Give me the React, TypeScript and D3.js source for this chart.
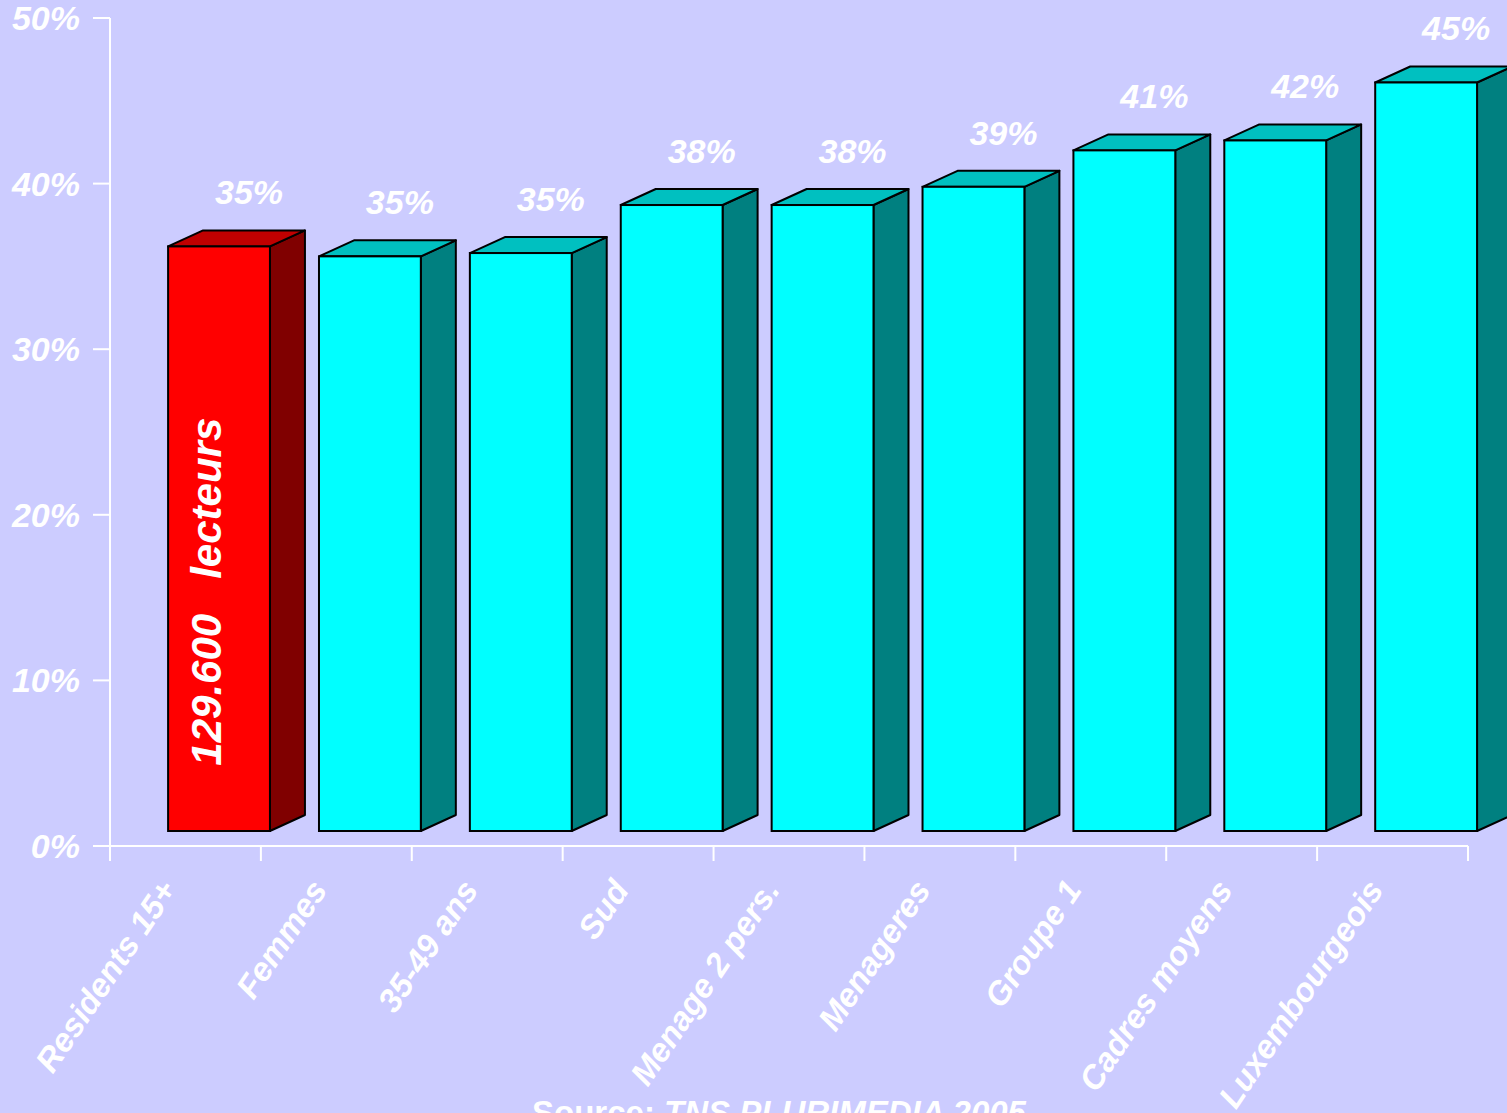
import React, { useRef, useEffect } from 'react';
import * as d3 from 'd3';

// data
const categories = [
    'Residents 15+', 'Femmes', '35-49 ans', 'Sud', 'Menage 2 pers.',
    'Menageres', 'Groupe 1', 'Cadres moyens', 'Luxembourgeois',
];
const values = [35.3, 34.7, 34.9, 37.8, 37.8, 38.9, 41.1, 41.7, 45.2];
const valueLabels = ['35%', '35%', '35%', '38%', '38%', '39%', '41%', '42%', '45%'];
const yTicks = [0, 10, 20, 30, 40, 50];
const highlight = 'Residents 15+';
const highlightNote = '129.600   lecteurs';
const sourceLabel = 'Source:';
const sourceName = 'TNS PLURIMEDIA 2005';

const FONT = "'Liberation Sans', Arial, sans-serif";

const App = () => {
    const chartRef = useRef<SVGSVGElement>(null);

    useEffect(() => {
        document.body.style.margin = '0';
        const svg = d3.select(chartRef.current);
        svg.selectAll('*').remove();

        const width = 1507;
        const height = 1113;
        const left = 110, right = 1468, top = 18, bottom = 846;

        svg.append('rect').attr('width', width).attr('height', height).attr('fill', '#ccccff');

        const x = d3.scaleBand().domain(categories).range([left, right]);
        const y = d3.scaleLinear().domain([0, 50]).range([bottom, top]);
        const bw = x.bandwidth();

        // 3D offsets
        const dx = 35, dy = 16, lift = 15;
        const faceX = (c: string) => (x(c) as number) + bw * 0.385;
        const faceW = bw * 0.675;

        // axes
        svg.append('line')
            .attr('x1', left).attr('x2', left).attr('y1', top).attr('y2', bottom + 15)
            .attr('stroke', 'white').attr('stroke-width', 2);
        svg.append('line')
            .attr('x1', 93).attr('x2', right).attr('y1', bottom).attr('y2', bottom)
            .attr('stroke', 'white').attr('stroke-width', 2);

        svg.selectAll('.ytick')
            .data(yTicks)
            .join('line')
            .attr('x1', 93).attr('x2', left)
            .attr('y1', (d) => y(d)).attr('y2', (d) => y(d))
            .attr('stroke', 'white').attr('stroke-width', 2);

        svg.selectAll('.ylab')
            .data(yTicks)
            .join('text')
            .attr('x', 80).attr('y', (d) => y(d) + 12)
            .attr('text-anchor', 'end')
            .attr('font-family', FONT).attr('font-size', 34)
            .attr('font-weight', 'bold').attr('font-style', 'italic')
            .attr('fill', 'white')
            .text((d) => d + '%');

        const xt = categories.map((c) => x(c) as number).concat([right]);
        svg.selectAll('.xtick')
            .data(xt)
            .join('line')
            .attr('x1', (d) => d).attr('x2', (d) => d)
            .attr('y1', bottom).attr('y2', bottom + 15)
            .attr('stroke', 'white').attr('stroke-width', 2);

        // bars
        const bars = svg.selectAll('.bar')
            .data(categories)
            .join('g');

        bars.each(function (c, i) {
            const g = d3.select(this);
            const hot = c === highlight;
            const x0 = faceX(c);
            const x1 = x0 + faceW;
            const y0 = y(0) - lift;
            const y1 = y(values[i]) - lift;
            const front = hot ? '#ff0000' : '#00ffff';
            const topC = hot ? '#c00000' : '#00c0c0';
            const side = hot ? '#800000' : '#008080';
            g.append('path')
                .attr('d', `M${x1},${y0}L${x1 + dx},${y0 - dy}L${x1 + dx},${y1 - dy}L${x1},${y1}Z`)
                .attr('fill', side).attr('stroke', 'black').attr('stroke-width', 2)
                .attr('stroke-linejoin', 'round');
            g.append('path')
                .attr('d', `M${x0},${y1}L${x0 + dx},${y1 - dy}L${x1 + dx},${y1 - dy}L${x1},${y1}Z`)
                .attr('fill', topC).attr('stroke', 'black').attr('stroke-width', 2)
                .attr('stroke-linejoin', 'round');
            g.append('rect')
                .attr('x', x0).attr('y', y1).attr('width', faceW).attr('height', y0 - y1)
                .attr('fill', front).attr('stroke', 'black').attr('stroke-width', 2);

            g.append('text')
                .attr('x', x0 + faceW / 2 + 30)
                .attr('y', y1 - dy - 26)
                .attr('text-anchor', 'middle')
                .attr('font-family', FONT).attr('font-size', 34)
                .attr('font-weight', 'bold').attr('font-style', 'italic')
                .attr('fill', 'white')
                .text(valueLabels[i]);

            if (hot) {
                const cx = x0 + faceW / 2 + 2;
                const cy = (y0 + y1) / 2 + 53;
                g.append('text')
                    .attr('transform', `translate(${cx},${cy}) rotate(-90)`)
                    .attr('text-anchor', 'middle')
                    .attr('font-family', FONT).attr('font-size', 42)
                    .attr('font-weight', 'bold').attr('font-style', 'italic')
                    .attr('fill', 'white')
                    .style('white-space', 'pre')
                    .text(highlightNote);
            }
        });

        // category labels
        svg.selectAll('.xlab')
            .data(categories)
            .join('text')
            .attr('transform', (c) => `translate(${(x(c) as number) + bw / 2 - 8},${bottom + 44}) rotate(-56)`)
            .attr('text-anchor', 'end')
            .attr('font-family', FONT).attr('font-size', 33)
            .attr('font-weight', 'bold').attr('font-style', 'italic')
            .attr('fill', 'white')
            .text((c) => c);

        // source
        const src = svg.append('text')
            .attr('x', 779).attr('y', 1124)
            .attr('text-anchor', 'middle')
            .attr('font-family', FONT).attr('font-size', 33)
            .attr('font-weight', 'bold')
            .attr('fill', 'white');
        src.append('tspan').text(sourceLabel + ' ');
        src.append('tspan').attr('font-style', 'italic').text(sourceName);
    }, []);

    return <svg ref={chartRef} width={1507} height={1113} style={{ display: 'block' }}></svg>;
};

export default App;
